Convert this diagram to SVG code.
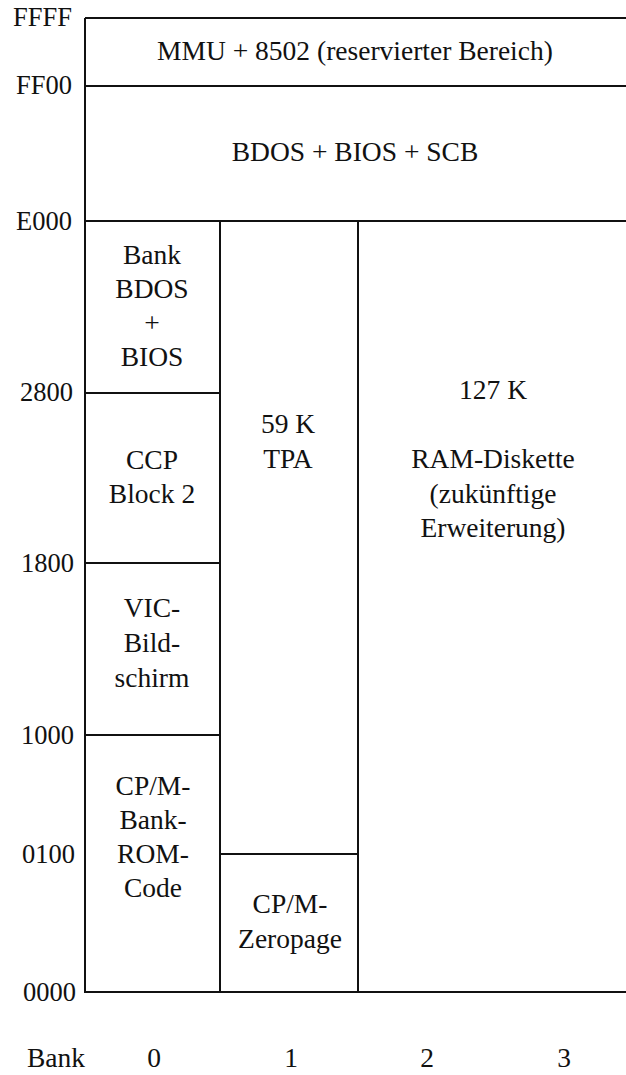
<svg xmlns="http://www.w3.org/2000/svg" width="626" height="1075" viewBox="0 0 626 1075">
<style>
.ln{stroke:#111;stroke-width:2;fill:none}
</style>
<rect width="626" height="1075" fill="#fff"/>
<g id="connectors">
<path class="ln" d="M85 18 H626 M85 86 H626 M85 221 H626 M85 18 V992 H626"/>
<path class="ln" d="M220 221 V992 M358 221 V992"/>
<path class="ln" d="M85 393 H220 M85 563 H220 M85 735 H220 M220 854 H358"/>
</g>
<g id="labels" text-anchor="end" fill="#111">
<text x="72" y="26" font-family="Liberation Serif" font-size="26.5">FFFF</text>
<text x="72" y="94" font-family="Liberation Serif" font-size="26.5">FF00</text>
<text x="72" y="230" font-family="Liberation Serif" font-size="26.5">E000</text>
<text x="73" y="401" font-family="Liberation Serif" font-size="26.5">2800</text>
<text x="74" y="572" font-family="Liberation Serif" font-size="26.5">1800</text>
<text x="74" y="744" font-family="Liberation Serif" font-size="26.5">1000</text>
<text x="75" y="863" font-family="Liberation Serif" font-size="26.5">0100</text>
<text x="76" y="1001" font-family="Liberation Serif" font-size="26.5">0000</text>
</g>
<g text-anchor="middle" fill="#111">
<g id="n_mmu"><text x="355" y="60" font-family="Liberation Serif" font-size="27.5">MMU + 8502 (reservierter Bereich)</text></g>
<g id="n_bdos"><text x="355" y="161" font-family="Liberation Serif" font-size="27.5">BDOS + BIOS + SCB</text></g>
<g id="n_bankbdos">
<text x="152" y="264" font-family="Liberation Serif" font-size="27.5">Bank</text>
<text x="152" y="298" font-family="Liberation Serif" font-size="27.5">BDOS</text>
<text x="152" y="332" font-family="Liberation Serif" font-size="27.5">+</text>
<text x="152" y="366" font-family="Liberation Serif" font-size="27.5">BIOS</text>
</g>
<g id="n_ccp">
<text x="152" y="469" font-family="Liberation Serif" font-size="27.5">CCP</text>
<text x="152" y="503" font-family="Liberation Serif" font-size="27.5">Block 2</text>
</g>
<g id="n_vic">
<text x="152" y="617" font-family="Liberation Serif" font-size="27.5">VIC-</text>
<text x="152" y="652" font-family="Liberation Serif" font-size="27.5">Bild-</text>
<text x="152" y="687" font-family="Liberation Serif" font-size="27.5">schirm</text>
</g>
<g id="n_rom">
<text x="153" y="795" font-family="Liberation Serif" font-size="27.5">CP/M-</text>
<text x="153" y="829" font-family="Liberation Serif" font-size="27.5">Bank-</text>
<text x="153" y="863" font-family="Liberation Serif" font-size="27.5">ROM-</text>
<text x="153" y="897" font-family="Liberation Serif" font-size="27.5">Code</text>
</g>
<g id="n_tpa">
<text x="288" y="433" font-family="Liberation Serif" font-size="27.5">59 K</text>
<text x="288" y="468" font-family="Liberation Serif" font-size="27.5">TPA</text>
</g>
<g id="n_zero">
<text x="290" y="913" font-family="Liberation Serif" font-size="27.5">CP/M-</text>
<text x="290" y="948" font-family="Liberation Serif" font-size="27.5">Zeropage</text>
</g>
<g id="n_ram">
<text x="493" y="399" font-family="Liberation Serif" font-size="27.5">127 K</text>
<text x="493" y="468" font-family="Liberation Serif" font-size="27.5">RAM-Diskette</text>
<text x="493" y="503" font-family="Liberation Serif" font-size="27.5">(zukünftige</text>
<text x="493" y="537" font-family="Liberation Serif" font-size="27.5">Erweiterung)</text>
</g>
<g id="banks">
<text x="56" y="1067" font-family="Liberation Serif" font-size="27.5">Bank</text>
<text x="154" y="1067" font-family="Liberation Serif" font-size="27.5">0</text>
<text x="291" y="1067" font-family="Liberation Serif" font-size="27.5">1</text>
<text x="427" y="1067" font-family="Liberation Serif" font-size="27.5">2</text>
<text x="564" y="1067" font-family="Liberation Serif" font-size="27.5">3</text>
</g>
</g>
</svg>
